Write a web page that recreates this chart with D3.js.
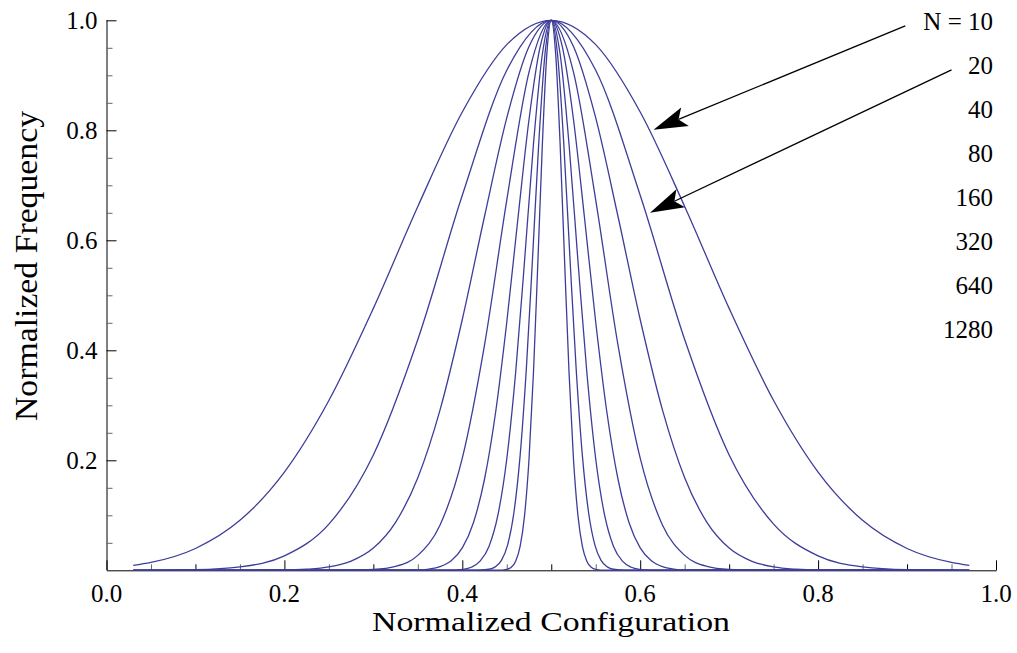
<!DOCTYPE html>
<html>
<head>
<meta charset="utf-8">
<script src="https://cdn.jsdelivr.net/npm/d3@7"></script>
<style>
  html, body { margin: 0; padding: 0; background: #fff; }
  svg { display: block; }
  text { font-family: "Liberation Serif", "Times New Roman", serif; fill: #000; }
</style>
</head>
<body>
<svg id="chart" width="1017" height="653"></svg>
<script>
// Series: normalized frequency vs normalized configuration
const nValues = [10, 20, 40, 80, 160, 320, 640, 1280];
const seriesLabels = ['N = 10', '20', '40', '80', '160', '320', '640', '1280'];

const xs10 = [0.03, 0.05, 0.10, 0.15, 0.20, 0.25, 0.30, 0.35, 0.40, 0.45, 0.50, 0.55, 0.60, 0.65, 0.70, 0.75, 0.80, 0.85, 0.90, 0.95, 0.97];
const ys10 = [0.0089, 0.0143, 0.0397, 0.0908, 0.1786, 0.3087, 0.4762, 0.6616, 0.8333, 0.9557, 1, 0.9557, 0.8333, 0.6616, 0.4762, 0.3087, 0.1786, 0.0908, 0.0397, 0.0143, 0.0089];

const xs20 = [0.03, 0.05, 0.10, 0.15, 0.20, 0.25, 0.30, 0.35, 0.40, 0.45, 0.50, 0.55, 0.60, 0.65, 0.70, 0.75, 0.80, 0.85, 0.90, 0.95, 0.97];
const ys20 = [0, 0.0001, 0.0010, 0.0062, 0.0262, 0.0839, 0.2098, 0.4196, 0.6818, 0.9091, 1, 0.9091, 0.6818, 0.4196, 0.2098, 0.0839, 0.0262, 0.0062, 0.0010, 0.0001, 0];

const xs40 = [0.03, 0.2, 0.225, 0.25, 0.275, 0.3, 0.325, 0.35, 0.375, 0.4, 0.425, 0.45, 0.475, 0.5, 0.525, 0.55, 0.575, 0.6, 0.625, 0.65, 0.675, 0.7, 0.725, 0.75, 0.775, 0.8, 0.97];
const ys40 = [0, 0.0006, 0.0020, 0.0061, 0.0168, 0.0405, 0.0873, 0.1684, 0.2918, 0.4560, 0.6437, 0.8225, 0.9524, 1, 0.9524, 0.8225, 0.6437, 0.4560, 0.2918, 0.1684, 0.0873, 0.0405, 0.0168, 0.0061, 0.0020, 0.0006, 0];

const xs80 = [0.03, 0.275, 0.3, 0.325, 0.35, 0.375, 0.4, 0.425, 0.45, 0.475, 0.5, 0.525, 0.55, 0.575, 0.6, 0.625, 0.65, 0.675, 0.7, 0.725, 0.97];
const ys80 = [0, 0.0003, 0.0015, 0.0072, 0.0271, 0.0825, 0.2038, 0.4098, 0.6732, 0.9059, 1, 0.9059, 0.6732, 0.4098, 0.2038, 0.0825, 0.0271, 0.0072, 0.0015, 0.0003, 0];

const xs160 = [0.03, 0.35, 0.3625, 0.375, 0.3875, 0.4, 0.4125, 0.425, 0.4375, 0.45, 0.4625, 0.475, 0.4875, 0.5, 0.5125, 0.525, 0.5375, 0.55, 0.5625, 0.575, 0.5875, 0.6, 0.6125, 0.625, 0.6375, 0.65, 0.97];
const ys160 = [0, 0.0007, 0.0023, 0.0066, 0.0173, 0.0407, 0.0865, 0.1660, 0.2878, 0.4510, 0.6392, 0.8197, 0.9515, 1, 0.9515, 0.8197, 0.6392, 0.4510, 0.2878, 0.1660, 0.0865, 0.0407, 0.0173, 0.0066, 0.0023, 0.0007, 0];

const xs320 = [0.03, 0.38, 0.39, 0.40, 0.41, 0.42, 0.43, 0.44, 0.45, 0.46, 0.47, 0.48, 0.49, 0.50, 0.51, 0.52, 0.53, 0.54, 0.55, 0.56, 0.57, 0.58, 0.59, 0.60, 0.61, 0.62, 0.97];
const ys320 = [0, 0.0001, 0.0004, 0.0016, 0.0055, 0.0166, 0.0434, 0.1001, 0.2024, 0.3600, 0.5629, 0.7747, 0.9383, 1, 0.9383, 0.7747, 0.5629, 0.3600, 0.2024, 0.1001, 0.0434, 0.0166, 0.0055, 0.0016, 0.0004, 0.0001, 0];

const xs640 = [0.03, 0.416, 0.43, 0.437, 0.444, 0.451, 0.458, 0.465, 0.472, 0.479, 0.486, 0.493, 0.5, 0.507, 0.514, 0.521, 0.528, 0.535, 0.542, 0.549, 0.556, 0.563, 0.57, 0.584, 0.97];
const ys640 = [0, 0.0001, 0.0019, 0.0062, 0.0181, 0.0463, 0.1046, 0.2085, 0.3666, 0.5686, 0.7781, 0.9392, 1, 0.9392, 0.7781, 0.5686, 0.3666, 0.2085, 0.1046, 0.0463, 0.0181, 0.0062, 0.0019, 0.0001, 0];

const xs1280 = [0.03, 0.44, 0.45, 0.455, 0.46, 0.465, 0.47, 0.475, 0.48, 0.485, 0.49, 0.495, 0.5, 0.505, 0.51, 0.515, 0.52, 0.525, 0.53, 0.535, 0.54, 0.545, 0.55, 0.56, 0.97];
const ys1280 = [0, 0.0001, 0.0017, 0.0056, 0.0166, 0.0435, 0.0999, 0.2019, 0.3592, 0.5621, 0.7741, 0.9380, 1, 0.9380, 0.7741, 0.5621, 0.3592, 0.2019, 0.0999, 0.0435, 0.0166, 0.0056, 0.0017, 0.0001, 0];

// Ticks
const xMajorTicks = [0, 0.2, 0.4, 0.6, 0.8, 1.0];
const xMinorTicks = [0.05, 0.1, 0.15, 0.25, 0.3, 0.35, 0.45, 0.5, 0.55, 0.65, 0.7, 0.75, 0.85, 0.9, 0.95];
const yMajorTicks = [0.2, 0.4, 0.6, 0.8, 1.0];
const yMinorTicks = [0.05, 0.1, 0.15, 0.25, 0.3, 0.35, 0.45, 0.5, 0.55, 0.65, 0.7, 0.75, 0.85, 0.9, 0.95];

// Arrows (data coordinates): tail near label, tip at curve
const arrowTails = [[0.898, 0.990], [0.950, 0.910]];
const arrowTips = [[0.615, 0.801], [0.611, 0.650]];

const xCols = [xs10, xs20, xs40, xs80, xs160, xs320, xs640, xs1280];
const yCols = [ys10, ys20, ys40, ys80, ys160, ys320, ys640, ys1280];
const series = nValues.map((n, i) => ({
  n: n,
  points: xCols[i].map((xv, j) => [xv, yCols[i][j]])
}));

const svg = d3.select('#chart');
const x = d3.scaleLinear().domain([0, 1]).range([106.5, 996]);
const y = d3.scaleLinear().domain([0, 1]).range([570.3, 20.3]);

// Axes
const xAxis = svg.append('g')
  .attr('transform', `translate(0,${y(0)})`)
  .call(d3.axisBottom(x).tickValues(xMajorTicks).tickSizeInner(-10).tickSizeOuter(0).tickFormat(''));
const xMinor = svg.append('g')
  .attr('transform', `translate(0,${y(0)})`)
  .call(d3.axisBottom(x).tickValues(xMinorTicks).tickSizeInner(-6).tickSizeOuter(0).tickFormat(''));
xMinor.select('.domain').remove();
xMinor.selectAll('.tick line').attr('stroke', d => (Math.round(d * 100) % 10 === 0) ? '#000' : '#666');

const yAxis = svg.append('g')
  .attr('transform', `translate(${x(0)},0)`)
  .call(d3.axisLeft(y).tickValues(yMajorTicks).tickSizeInner(-10).tickSizeOuter(0).tickFormat(''));
yAxis.select('.domain').attr('d', `M0.5,${y(0)}V${y(1)}`);
const yMinor = svg.append('g')
  .attr('transform', `translate(${x(0)},0)`)
  .call(d3.axisLeft(y).tickValues(yMinorTicks).tickSizeInner(-6).tickSizeOuter(0).tickFormat(''));
yMinor.select('.domain').remove();
yMinor.selectAll('.tick line').attr('stroke', '#666');

svg.selectAll('.domain').attr('stroke', '#000');

// Tick labels
const fmt = d3.format('.1f');
svg.append('g').selectAll('text')
  .data(xMajorTicks)
  .enter().append('text')
  .attr('x', d => x(d))
  .attr('y', 602)
  .attr('text-anchor', 'middle')
  .style('font-size', '25px')
  .text(fmt);

svg.append('g').selectAll('text')
  .data(yMajorTicks)
  .enter().append('text')
  .attr('x', x(0) - 9)
  .attr('y', d => y(d) + 8.6)
  .attr('text-anchor', 'end')
  .style('font-size', '25px')
  .text(fmt);

// Axis titles
svg.append('text')
  .attr('x', 551)
  .attr('y', 631)
  .attr('text-anchor', 'middle')
  .attr('textLength', 358)
  .attr('lengthAdjust', 'spacingAndGlyphs')
  .style('font-size', '28px')
  .text('Normalized Configuration');

svg.append('text')
  .attr('transform', 'translate(37,266) rotate(-90)')
  .attr('text-anchor', 'middle')
  .attr('textLength', 310)
  .attr('lengthAdjust', 'spacingAndGlyphs')
  .style('font-size', '32px')
  .text('Normalized Frequency');

// Curves
const line = d3.line()
  .x(d => x(d[0]))
  .y(d => y(d[1]))
  .curve(d3.curveMonotoneX);

svg.append('g')
  .selectAll('path')
  .data(series)
  .enter().append('path')
  .attr('d', d => line(d.points))
  .attr('fill', 'none')
  .attr('stroke', '#3d3d99')
  .attr('stroke-width', 1.3);

// Series labels
svg.append('g').selectAll('text')
  .data(seriesLabels)
  .enter().append('text')
  .attr('x', 993)
  .attr('y', (d, i) => 29.5 + i * 44)
  .attr('text-anchor', 'end')
  .style('font-size', '25px')
  .text(d => d);

// Arrows
const arrows = svg.append('g');
arrowTails.forEach((tail, i) => {
  const tip = arrowTips[i];
  const tx = x(tip[0]), ty = y(tip[1]);
  const sx = x(tail[0]), sy = y(tail[1]);
  const len = Math.hypot(sx - tx, sy - ty);
  const ux = (sx - tx) / len, uy = (sy - ty) / len;
  const px = -uy, py = ux;
  const headLen = 34, halfW = 10, notch = 27;
  arrows.append('line')
    .attr('x1', sx).attr('y1', sy)
    .attr('x2', tx + ux * notch).attr('y2', ty + uy * notch)
    .attr('stroke', '#000')
    .attr('stroke-width', 1.3);
  arrows.append('path')
    .attr('d', `M${tx},${ty}` +
      `L${tx + ux * headLen + px * halfW},${ty + uy * headLen + py * halfW}` +
      `L${tx + ux * notch},${ty + uy * notch}` +
      `L${tx + ux * headLen - px * halfW},${ty + uy * headLen - py * halfW}Z`)
    .attr('fill', '#000');
});
</script>
</body>
</html>
